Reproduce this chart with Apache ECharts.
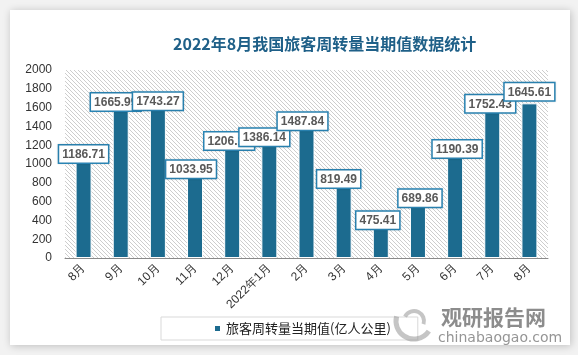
<!DOCTYPE html>
<html><head><meta charset="utf-8">
<script src="https://cdn.jsdelivr.net/npm/echarts@6/dist/echarts.min.js"></script>
<style>html,body{margin:0;padding:0;background:#f2f2f2;}#c{width:578px;height:355px;}</style>
</head><body><div id="c"></div>
<script>
const categories = ['8月','9月','10月','11月','12月','2022年1月','2月','3月','4月','5月','6月','7月','8月'];
const values = [1186.71,1665.99,1743.27,1033.95,1206.17,1386.14,1487.84,819.49,475.41,689.86,1190.39,1752.43,1645.61];
const yTicks = [0,200,400,600,800,1000,1200,1400,1600,1800,2000];
const seriesName = '旅客周转量当期值(亿人公里)';
const titleText = '2022年8月我国旅客周转量当期值数据统计';
// label box offsets (style only)
const labelDx = [0,-5,0,-4,-3,-5,-4,-5,-3,2,2,-2,0];
const labelDy = [6,-1,5.5,7,-5,8,1.5,-3.5,5.5,3.5,1.5,9,-13];

const cv = document.createElement('canvas');
cv.width = 4; cv.height = 4;
const cx = cv.getContext('2d');
cx.fillStyle = '#ffffff'; cx.fillRect(0,0,4,4);
cx.strokeStyle = '#cdcdcd'; cx.lineWidth = 1;
cx.beginPath();
cx.moveTo(-1,-1); cx.lineTo(5,5);
cx.moveTo(-1,3); cx.lineTo(1,5);
cx.moveTo(3,-1); cx.lineTo(5,1);
cx.stroke();

const chart = echarts.init(document.getElementById('c'));
const data = values.map((v,i)=>({
  value: v,
  label: { offset: [labelDx[i], labelDy[i] + 10] }
}));
chart.setOption({
  backgroundColor: '#f2f2f2',
  animation: false,
  title: {
    text: titleText, left: 168, top: 31,
    textStyle: { color: '#1f6088', fontSize: 16, fontWeight: 'bold', fontFamily: 'Noto Sans CJK SC' }
  },
  graphic: [
    { type: 'rect', z: -100, shape: { x: 10, y: 10, width: 560, height: 335 },
      style: { fill: '#ffffff', shadowBlur: 8, shadowColor: 'rgba(0,0,0,0.22)', shadowOffsetX: 1, shadowOffsetY: 1 } },
    { type: 'arc', z: 50, shape: { cx: 414, cy: 321, r: 18, startAngle: 0.6, endAngle: 3.4 },
      style: { stroke: 'rgba(150,150,150,0.55)', lineWidth: 5, fill: null } },
    { type: 'arc', z: 50, shape: { cx: 414, cy: 321, r: 10, startAngle: 3.6, endAngle: 6.6 },
      style: { stroke: 'rgba(150,150,150,0.55)', lineWidth: 4, fill: null } },
    { type: 'text', z: 50, left: 441, top: 307,
      style: { text: '观研报告网', fill: 'rgba(120,120,120,0.85)', font: 'bold 21px "Noto Sans CJK SC"' } },
    { type: 'text', z: 50, left: 438, top: 331,
      style: { text: 'chinabaogao.com', fill: 'rgba(130,130,130,0.85)', font: '14px "DejaVu Sans"' } }
  ],
  legend: {
    left: 161, top: 317, orient: 'horizontal',
    padding: [5, 27, 5, 52],
    borderColor: '#d9d9d9', borderWidth: 1, backgroundColor: '#ffffff',
    itemWidth: 7, itemHeight: 7, icon: 'rect',
    textStyle: { fontSize: 13, color: '#222', fontFamily: 'Noto Sans CJK SC' },
    data: [seriesName]
  },
  grid: {
    left: 65, right: 30, top: 70, bottom: 97, show: true, borderWidth: 0,
    backgroundColor: { image: cv, repeat: 'repeat' }
  },
  xAxis: {
    type: 'category', data: categories,
    axisLine: { lineStyle: { color: '#8a8a8a', width: 1 } },
    axisTick: { show: false },
    axisLabel: { interval: 0, rotate: 45, margin: 8, fontSize: 12, color: '#333', fontFamily: 'Liberation Sans' }
  },
  yAxis: {
    type: 'value', min: yTicks[0], max: yTicks[yTicks.length-1], interval: yTicks[1]-yTicks[0],
    axisLine: { show: false }, axisTick: { show: false }, splitLine: { show: false },
    axisLabel: { fontSize: 12, color: '#333', margin: 13, fontFamily: 'Liberation Sans', formatter: v => String(v) }
  },
  series: [{
    name: seriesName, type: 'bar', data: data, barWidth: 16,
    itemStyle: { color: '#1c6b8f', borderColor: '#ffffff', borderWidth: 1 },
    label: {
      show: true, position: 'top', distance: 0,
      formatter: p => p.value.toFixed(2),
      backgroundColor: '#ffffff', borderColor: '#2a86b6', borderWidth: 1.5,
      padding: [3, 3, 2, 3], fontSize: 12, fontWeight: 'bold', color: '#595959',
      fontFamily: 'Liberation Sans', shadowColor: 'rgba(0,0,0,0.15)', shadowBlur: 2
    }
  }]
});
</script></body></html>
